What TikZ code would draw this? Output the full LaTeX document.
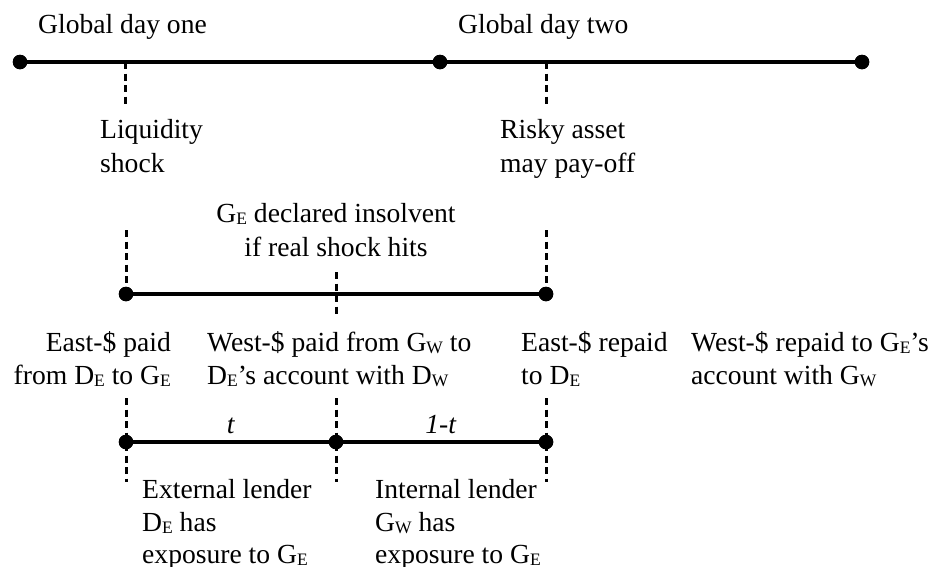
\documentclass[tikz,border=0pt]{standalone}
\usepackage{fontspec}
\setmainfont{Liberation Serif}
\newcommand\lsub[1]{\raisebox{-0.08em}{\fontsize{17.5}{17.5}\selectfont #1}}
\begin{document}
\begin{tikzpicture}[x=1pt,y=-1pt,
  txt/.style={inner sep=0pt, font=\fontsize{27.6}{34}\selectfont},
  dot/.style={circle, fill=black, inner sep=0pt, minimum size=14.5pt},
  tl/.style={line width=3.4pt},
  tick/.style={line width=3pt, dash pattern=on 7pt off 4.5pt}]
\clip (0,0) rectangle (937,566);
% ---------- top timeline ----------
\node[dot] (a1) at (20,62) {};
\node[dot] (a2) at (440,62) {};
\node[dot] (a3) at (862,62) {};
\draw[tl] (a1) -- (a2) -- (a3);
\coordinate (ta1) at (125,62);
\coordinate (tb1) at (125,106);
\coordinate (ta2) at (546,62);
\coordinate (tb2) at (546,106);
\draw[tick] (ta1) -- (tb1);
\draw[tick] (ta2) -- (tb2);
\node[dot] at (a1) {};
\node[dot] at (a2) {};
\node[dot] at (a3) {};
\node[txt, anchor=base west] (g1) at (38,33) {Global day one};
\node[txt, anchor=base west] (g2) at (458,33) {Global day two};
\node[txt, anchor=base west] (l1) at (100,138) {Liquidity};
\node[txt, anchor=base west] (l2) at (100,172) {shock};
\node[txt, anchor=base west] (r1) at (500,138) {Risky asset};
\node[txt, anchor=base west] (r2) at (500,172) {may pay-off};
% ---------- middle timeline ----------
\node[txt, anchor=base] (i1) at (336,222) {G\lsub{E} declared insolvent};
\node[txt, anchor=base] (i2) at (336,256) {if real shock hits};
\node[dot] (b1) at (126,294) {};
\node[dot] (b2) at (546,294) {};
\coordinate (bu1) at (126,230);
\coordinate (bu2) at (546,230);
\coordinate (bm1) at (336,272);
\coordinate (bm2) at (336,318);
\draw[tl] (b1) -- (b2);
\draw[tick] (bu1) -- (b1.center);
\draw[tick] (bu2) -- (b2.center);
\draw[tick] (bm1) -- (bm2);
\node[dot] at (b1) {};
\node[dot] at (b2) {};
% ---------- row of payment texts ----------
\node[txt, anchor=base east] (e1) at (171,351) {East-\$ paid};
\node[txt, anchor=base east] (e2) at (171,384) {from D\lsub{E} to G\lsub{E}};
\node[txt, anchor=base west] (w1) at (207,351) {West-\$ paid from G\lsub{W} to};
\node[txt, anchor=base west] (w2) at (207,384) {D\lsub{E}'s account with D\lsub{W}};
\node[txt, anchor=base west] (er1) at (521,351) {East-\$ repaid};
\node[txt, anchor=base west] (er2) at (521,384) {to D\lsub{E}};
\node[txt, anchor=base west] (wr1) at (691,351) {West-\$ repaid to G\lsub{E}'s};
\node[txt, anchor=base west] (wr2) at (691,384) {account with G\lsub{W}};
% ---------- bottom timeline ----------
\node[dot] (c1) at (126,442) {};
\node[dot] (c2) at (336,442) {};
\node[dot] (c3) at (546,442) {};
\coordinate (cu1) at (126,398);
\coordinate (cd1) at (126,482);
\coordinate (cu2) at (336,398);
\coordinate (cd2) at (336,482);
\coordinate (cu3) at (546,398);
\coordinate (cd3) at (546,482);
\draw[tl] (c1) -- (c2) -- (c3);
\draw[tick] (cu1) -- (cd1);
\draw[tick] (cu2) -- (cd2);
\draw[tick] (cu3) -- (cd3);
\node[dot] at (c1) {};
\node[dot] at (c2) {};
\node[dot] at (c3) {};
\node[txt, anchor=base] (tt) at (231,433) {\textit{t}};
\node[txt, anchor=base] (ot) at (441,433) {\textit{1-t}};
\node[txt, anchor=base west] (x1) at (142,498) {External lender};
\node[txt, anchor=base west] (x2) at (142,531) {D\lsub{E} has};
\node[txt, anchor=base west] (x3) at (142,563) {exposure to G\lsub{E}};
\node[txt, anchor=base west] (n1) at (375,498) {Internal lender};
\node[txt, anchor=base west] (n2) at (375,531) {G\lsub{W} has};
\node[txt, anchor=base west] (n3) at (375,563) {exposure to G\lsub{E}};
\end{tikzpicture}
\end{document}
